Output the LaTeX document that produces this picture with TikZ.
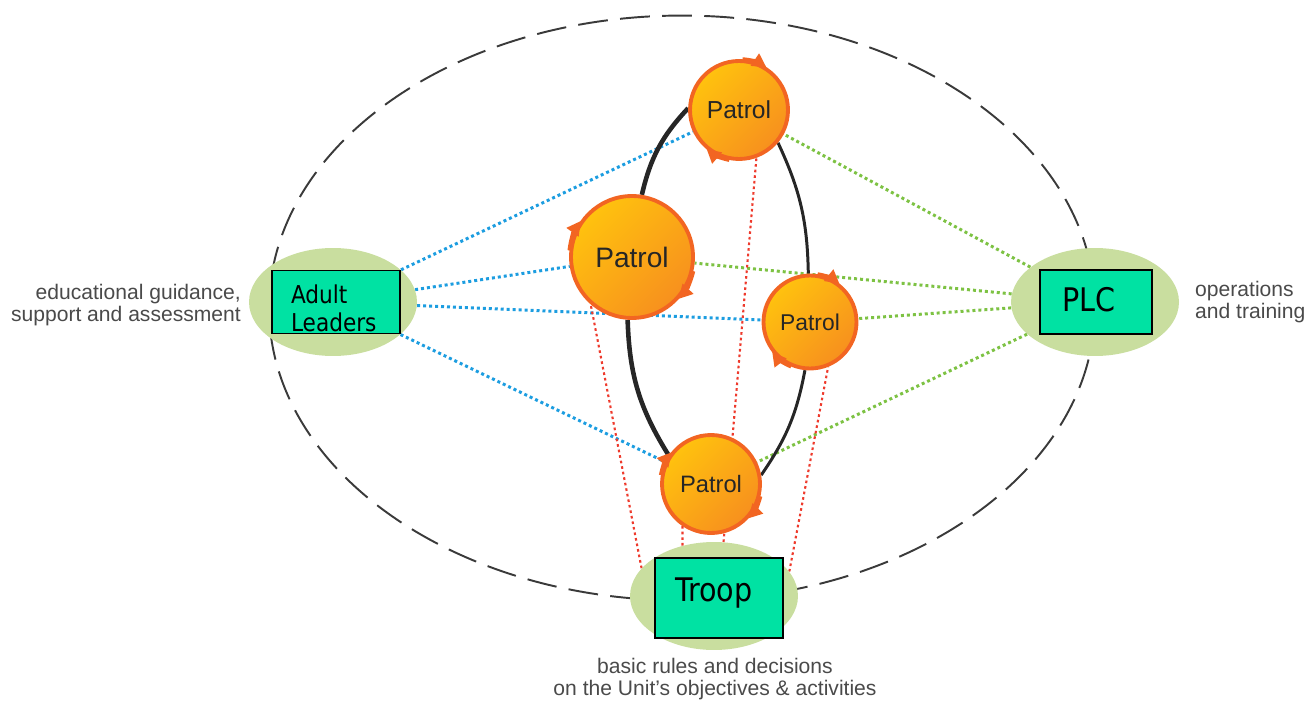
\documentclass[tikz,border=0pt]{standalone}
\usepackage{fontspec}
\setmainfont{Liberation Sans}
\newfontfamily\boxfont[FakeStretch=0.88]{DejaVu Sans}
\usetikzlibrary{shapes.geometric,arrows.meta,backgrounds}

\definecolor{padgreen}{HTML}{C9DE9F}
\definecolor{boxteal}{HTML}{00E2A3}
\definecolor{patA}{HTML}{FFC20E}
\definecolor{patB}{HTML}{F7901E}
\definecolor{patring}{HTML}{F26522}
\definecolor{linkblue}{HTML}{1C9DE0}
\definecolor{linkgreen}{HTML}{7DC243}
\definecolor{linkred}{HTML}{EE3A2C}
\definecolor{unitgray}{HTML}{3A3A3A}
\definecolor{labelgray}{HTML}{4A4A4A}

\begin{document}
\begin{tikzpicture}[x=0.02cm, y=-0.02cm,
    pad/.style={ellipse, fill=padgreen, minimum width=3.36cm, minimum height=2.16cm, inner sep=0pt},
    tealbox/.style={draw=black, line width=1pt, fill=boxteal, font=\boxfont, align=left, inner ysep=0pt},
    patrol/.style={circle, draw=patring, line width=2.2pt, top color=patA, bottom color=patB, shading angle=45, inner sep=0pt, text=black!85},
    patmark/.style={draw=patring, line width=2.2pt, -{Triangle[length=8pt,width=8pt]}},
    bluelink/.style={linkblue, line width=1.7pt, dash pattern=on 1.7pt off 1.7pt},
    greenlink/.style={linkgreen, line width=1.7pt, dash pattern=on 1.7pt off 1.7pt},
    redlink/.style={linkred, line width=1.2pt, dash pattern=on 1.5pt off 1.7pt},
    ringline/.style={black!85, line width=2.6pt},
    sidelabel/.style={text=labelgray, font=\fontsize{12}{12.5}\selectfont}]
    \useasboundingbox (0,0) rectangle (1307,702);

    % Unit boundary
    \node[ellipse, draw=unitgray, line width=1.1pt, dash pattern=on 17pt off 7pt,
          minimum width=16.52cm, minimum height=11.7cm] (unit) at (682,308) {};

    % Green pads
    \node[pad] (al) at (333,302) {};
    \node[pad] (plc) at (1095,302) {};
    \node[pad] (troop) at (714,596) {};

    % Patrols
    \node[patrol, minimum size=1.96cm, font=\fontsize{14}{14}\selectfont] (p1) at (739,110) {Patrol};
    \node[patrol, minimum size=2.44cm, font=\fontsize{16}{16}\selectfont] (p2) at (632,257) {Patrol};
    \node[patrol, minimum size=1.86cm, font=\fontsize{13}{13}\selectfont] (p3) at (810,322) {Patrol};
    \node[patrol, minimum size=1.96cm, font=\fontsize{13.5}{13.5}\selectfont] (p4) at (711,484) {Patrol};

    % Turning marks on the patrols
    \foreach \p/\s/\e/\r in {p1/86/56/0.98, p1/259/229/0.98, p2/174/144/1.22, p2/-13/-43/1.22,
                             p3/81/51/0.93, p3/247/217/0.93, p4/170/140/0.98, p4/-14/-44/0.98}
        \draw[patmark] (\p.\s) arc[start angle=\s, end angle=\e, radius=\r cm];

    % Teal boxes
    \node[tealbox, font=\boxfont\fontsize{14}{16}\selectfont, text width=1.8cm, inner xsep=0.38cm,
          text height=0.6cm, text depth=0.56cm, minimum height=1.26cm] (albox) at (336,302) {Adult\\Leaders};
    \node[tealbox, font=\boxfont\fontsize{18.5}{20}\selectfont, text width=1.36cm, inner xsep=0.44cm,
          text height=0.48cm, text depth=0.08cm, minimum height=1.28cm] (plcbox) at (1096,302) {PLC};
    \node[tealbox, font=\boxfont\fontsize{18.5}{20}\selectfont, text width=1.76cm, inner xsep=0.4cm,
          text height=0.48cm, text depth=0.36cm, minimum height=1.6cm] (troopbox) at (719,598) {Troop};

    % Labels
    \node[sidelabel, anchor=east, align=right] (ledu) at (247,305) {educational guidance,\\support and assessment};
    \node[sidelabel, anchor=west, align=left] (lops) at (1189,302) {operations\\and training};
    \node[sidelabel, align=center] (lbasic) at (715,679) {basic rules and decisions\\on the Unit's objectives \& activities};

    \begin{scope}[on background layer]
        % Adult Leaders links
        \foreach \p in {p1,p2,p3,p4}
            \draw[bluelink] (al) -- (\p);
        % PLC links
        \foreach \p in {p1,p2,p3,p4}
            \draw[greenlink] (plc) -- (\p);
        % Troop links
        \draw[redlink] (troop.80) -- (p1.-70);
        \draw[redlink] (troop.122) -- (p4.-124);
        \draw[redlink] (troop.159) -- (p2.-131);
        \draw[redlink] (troop.18) -- (p3.-68);
        % Patrol ring
        \draw[ringline] (p1.178) to[bend right=15] (p2.81);
        \draw[ringline] (p2.-94) to[bend right=15] (p4.146);
        \draw[ringline, line width=1.7pt] (p1.-40) to[bend left=12] (p3.92);
        \draw[ringline, line width=1.7pt] (p3.-96) to[bend left=12] (p4.10);
    \end{scope}
\end{tikzpicture}
\end{document}
